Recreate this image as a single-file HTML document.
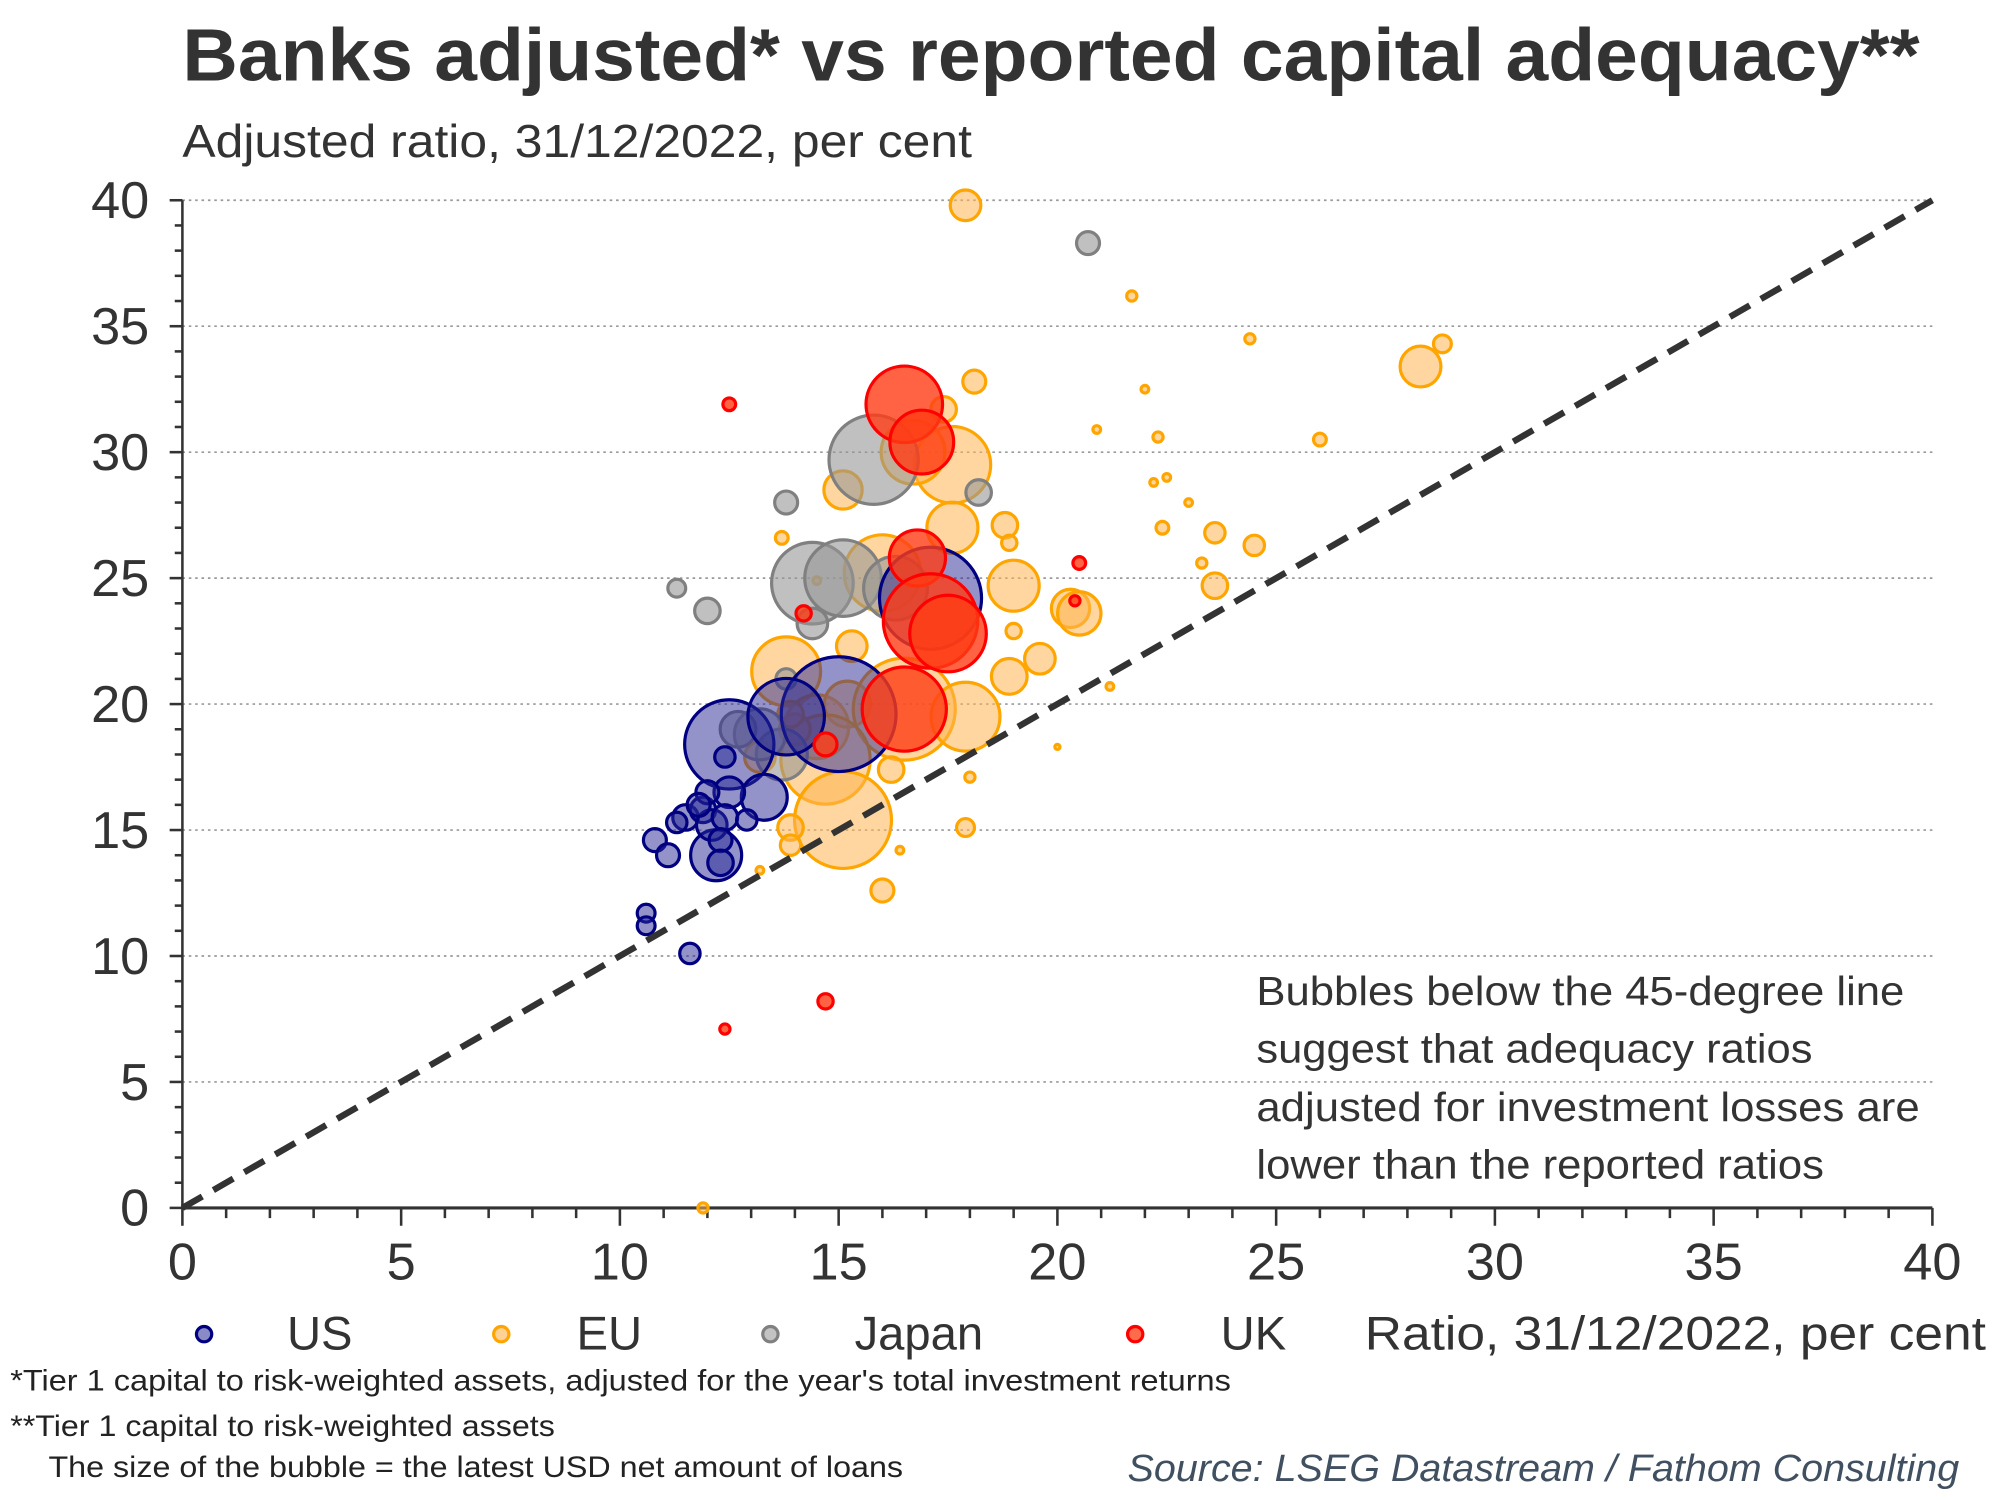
<!DOCTYPE html>
<html><head><meta charset="utf-8"><style>
html,body{margin:0;padding:0;background:#fff;}
svg{display:block;font-family:"Liberation Sans",Arial,sans-serif;}
</style></head><body>
<svg id="chart" width="2000" height="1500" viewBox="0 0 1568 1176" xmlns="http://www.w3.org/2000/svg">
<text x="143" y="63" font-size="58" font-weight="bold" fill="#333" textLength="1362" lengthAdjust="spacingAndGlyphs">Banks adjusted* vs reported capital adequacy**</text>
<text x="143" y="123" font-size="36" fill="#333" textLength="619" lengthAdjust="spacingAndGlyphs">Adjusted ratio, 31/12/2022, per cent</text>
<g id="grid"></g><g id="axes"></g><g id="bubbles"></g><g id="diag"></g>
<g font-size="32" fill="#333">
<text x="985" y="788" textLength="508" lengthAdjust="spacingAndGlyphs">Bubbles below the 45-degree line</text>
<text x="985" y="833" textLength="436" lengthAdjust="spacingAndGlyphs">suggest that adequacy ratios</text>
<text x="985" y="879" textLength="520" lengthAdjust="spacingAndGlyphs">adjusted for investment losses are</text>
<text x="985" y="924" textLength="445" lengthAdjust="spacingAndGlyphs">lower than the reported ratios</text>
</g>
<g font-size="37" fill="#333">
<circle cx="160" cy="1046" r="6" fill="rgba(60,60,160,0.6)" stroke="#000080" stroke-width="2.5"/><text x="225" y="1058">US</text>
<circle cx="393" cy="1046" r="6" fill="rgba(255,190,100,0.7)" stroke="#FFA500" stroke-width="2.5"/><text x="452" y="1058">EU</text>
<circle cx="604" cy="1046" r="6" fill="rgba(170,170,170,0.7)" stroke="#808080" stroke-width="2.5"/><text x="670" y="1058">Japan</text>
<circle cx="890" cy="1046" r="6" fill="rgba(255,70,30,0.8)" stroke="#FF0000" stroke-width="2.5"/><text x="957" y="1058">UK</text>
<text x="1070" y="1058" textLength="487" lengthAdjust="spacingAndGlyphs">Ratio, 31/12/2022, per cent</text>
</g>
<g font-size="23" fill="#222">
<text x="8" y="1090" textLength="957" lengthAdjust="spacingAndGlyphs">*Tier 1 capital to risk-weighted assets, adjusted for the year's total investment returns</text>
<text x="8" y="1126" textLength="427" lengthAdjust="spacingAndGlyphs">**Tier 1 capital to risk-weighted assets</text>
<text x="38" y="1158" textLength="670" lengthAdjust="spacingAndGlyphs">The size of the bubble =  the latest USD net amount of loans</text>
</g>
<text x="884" y="1161" font-size="30" font-style="italic" fill="#405060" textLength="652" lengthAdjust="spacingAndGlyphs">Source: LSEG Datastream / Fathom Consulting</text>
</svg>
<script>
const xTicks=[0,5,10,15,20,25,30,35,40];
const yTicks=[0,5,10,15,20,25,30,35,40];
const usX=[10.6,10.6,11.6,10.8,11.1,12.5,15.0,17.1,12.2,13.3,12.5,11.5,11.9,12.1,12.4,11.3,12.0,12.4,12.9,12.3,11.8,13.8,12.3];
const usY=[11.7,11.2,10.1,14.6,14.0,18.4,19.6,24.2,14.0,16.3,16.5,15.5,15.8,15.2,15.5,15.3,16.5,17.9,15.4,14.6,16.0,19.5,13.7];
const usS=[7,7,8,9,9,35,45,40,20,18,12,10,10,12,10,8,9,8,8,9,9,30,10];
const euX=[17.9,21.7,24.4,28.3,28.8,18.1,22.0,20.9,22.3,26.0,17.4,17.6,16.7,15.1,17.6,13.7,22.2,22.5,23.0,18.8,18.9,22.4,23.6,24.5,23.3,23.6,19.0,20.3,20.5,19.0,19.6,18.9,21.2,20.0,18.0,13.8,14.5,15.2,16.5,17.9,14.7,15.1,14.0,13.2,13.9,13.9,13.2,16.4,17.9,16.0,11.9,16.2,14.5,16.0,15.3,13.9];
const euY=[39.8,36.2,34.5,33.4,34.3,32.8,32.5,30.9,30.6,30.5,31.7,29.5,30.0,28.5,27.0,26.6,28.8,29.0,28.0,27.1,26.4,27.0,26.8,26.3,25.6,24.7,24.7,23.8,23.6,22.9,21.8,21.1,20.7,18.3,17.1,21.3,19.1,20.0,19.8,19.5,17.8,15.4,19.0,17.9,15.1,14.4,13.4,14.2,15.1,12.6,0,17.4,24.9,25.2,22.3,19.6];
const euS=[12,4,4,16,7,9,3,3,4,5,10,30,25,15,20,5,3,3,3,10,6,5,8,8,4,10,20,15,17,6,12,14,3,2,4,27,25,18,40,27,35,38,12,12,10,8,3,3,7,9,4,10,3,30,12,10];
const jpX=[20.7,13.8,11.3,12.0,15.8,18.2,14.4,15.1,16.3,13.7,13.2,14.4,13.8,12.7];
const jpY=[38.3,28.0,24.6,23.7,29.7,28.4,24.8,25.0,24.6,18.0,18.8,23.2,21.0,19.0];
const jpS=[9,9,7,10,35,10,32,30,25,20,20,12,8,14];
const ukX=[12.5,16.5,16.9,16.8,17.1,17.5,16.5,14.2,14.7,20.5,20.4,14.7,12.4];
const ukY=[31.9,31.9,30.4,25.8,23.3,22.8,19.8,23.6,18.4,25.6,24.1,8.2,7.1];
const ukS=[5,30,25,22,37,30,33,6,9,5,4,6,4];
const X0=143,X1=1515,Y0=947,Y1=157,MAX=40;
const sx=v=>X0+(X1-X0)*v/MAX, sy=v=>Y0-(Y0-Y1)*v/MAX;
const NS="http://www.w3.org/2000/svg";
function mk(tag,parent,attrs){const e=document.createElementNS(NS,tag);for(const k in attrs)e.setAttribute(k,attrs[k]);document.getElementById(parent).appendChild(e);return e;}
yTicks.forEach(t=>{if(t>0){const g=mk('line','grid',{x1:sx(0),x2:sx(40),y1:sy(t),y2:sy(t),stroke:'#999','stroke-width':1.3,'stroke-dasharray':'2 3'});

}
const l=mk('text','axes',{x:117,y:sy(t)+14,'text-anchor':'end','font-size':41,fill:'#333'});l.textContent=t;

});
xTicks.forEach(t=>{const l=mk('text','axes',{x:sx(t),y:1003,'text-anchor':'middle','font-size':41,fill:'#333'});l.textContent=t;

});
for(let i=0;i<=40;i++){const maj=i%5===0;
mk('line','axes',{x1:sx(0)-(maj?10:6),x2:sx(0),y1:sy(i),y2:sy(i),stroke:'#333','stroke-width':2});
mk('line','axes',{x1:sx(i),x2:sx(i),y1:sy(0),y2:sy(0)+(maj?14:8),stroke:'#333','stroke-width':2});}
const ya=mk('line','axes',{x1:sx(0),x2:sx(0),y1:sy(0),y2:sy(40),stroke:'#333','stroke-width':2});


const xa=mk('line','axes',{x1:sx(0),x2:sx(40),y1:sy(0),y2:sy(0),stroke:'#333','stroke-width':2.5});


function series(xs,ys,ss,fill,stroke,name){xs.forEach((x,i)=>{const c=mk('circle','bubbles',{cx:sx(x),cy:sy(ys[i]),r:ss[i],fill:fill,stroke:stroke,'stroke-width':2.5});

});}
series(euX,euY,euS,'rgba(255,180,80,0.55)','#FFA500','eu');
series(jpX,jpY,jpS,'rgba(150,150,150,0.6)','#808080','japan');
series(usX,usY,usS,'rgba(40,40,150,0.5)','#000080','us');
series(ukX,ukY,ukS,'rgba(255,60,20,0.8)','#FF0000','uk');
const d=mk('line','diag',{x1:sx(0),y1:sy(0),x2:sx(40),y2:sy(40),stroke:'#333','stroke-width':5,'stroke-dasharray':'18 10'});


</script>
</body></html>
